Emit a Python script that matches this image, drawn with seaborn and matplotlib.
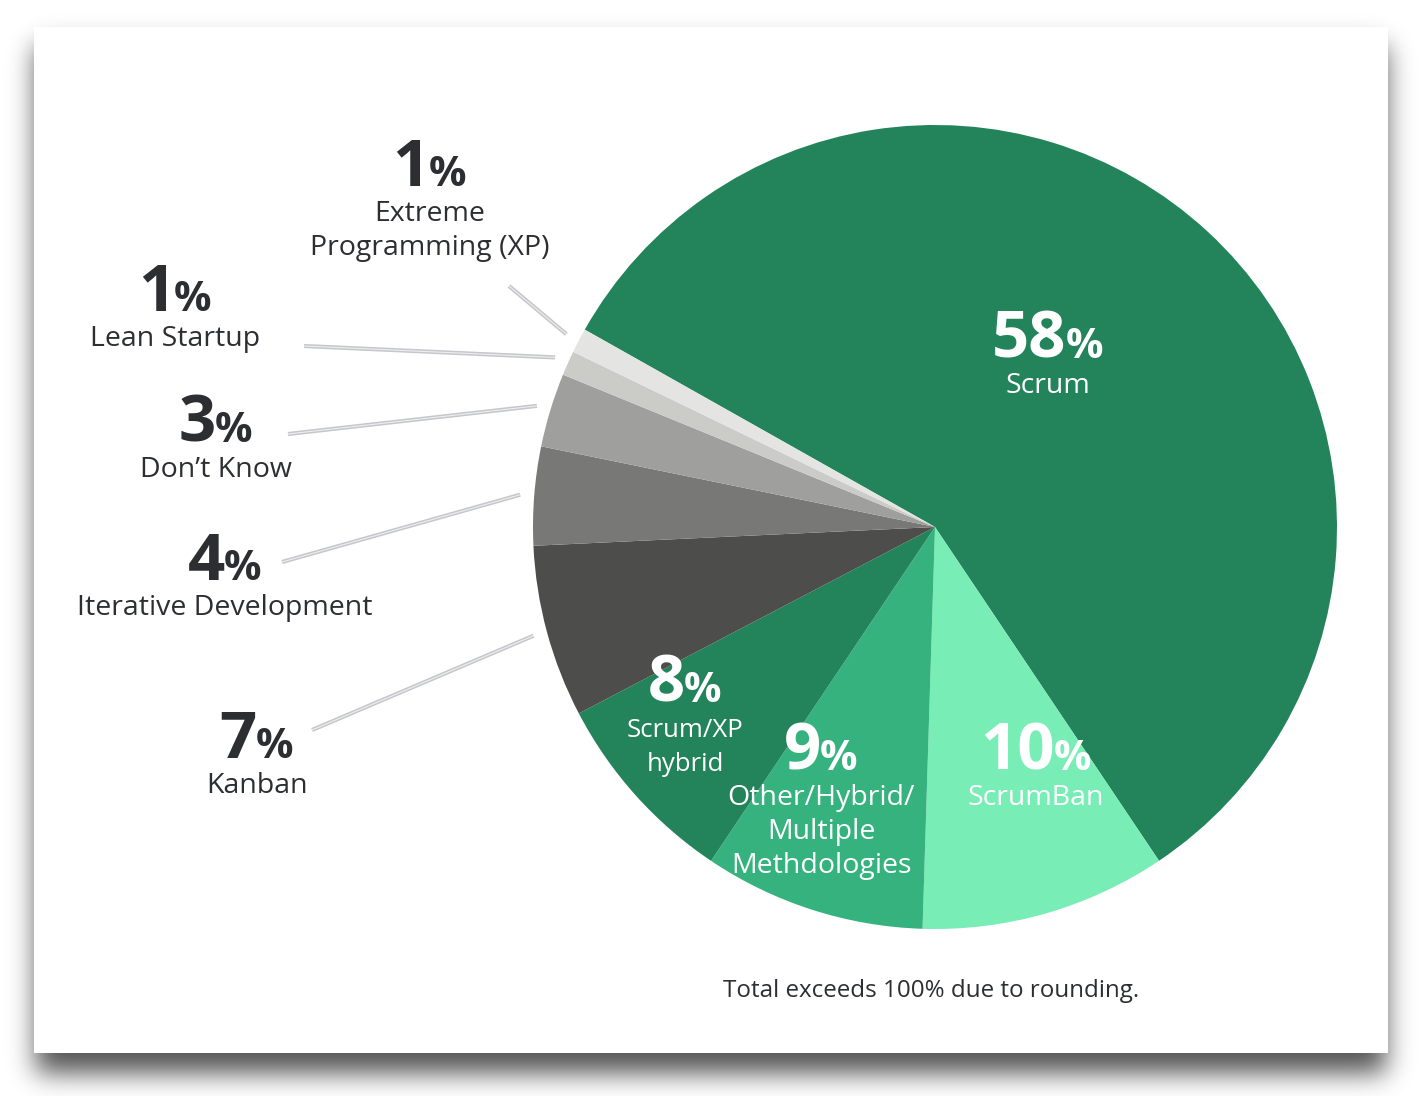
import numpy as np
import matplotlib
matplotlib.use("Agg")
import matplotlib.pyplot as plt
from matplotlib.patches import Rectangle
import seaborn as sns
from math import erf

# Data (total is 101% due to rounding)
methods = ["Scrum", "ScrumBan", "Other/Hybrid/\nMultiple\nMethdologies", "Scrum/XP\nhybrid",
           "Kanban", "Iterative Development", "Don’t Know", "Lean Startup",
           "Extreme\nProgramming (XP)"]
shares = [58, 10, 9, 8, 7, 4, 3, 1, 1]
colors = ["#23845b", "#78edb6", "#36b27f", "#23845b",
          "#4d4d4b", "#787876", "#9f9f9e", "#cbcbc7", "#e4e4e2"]
note = "Total exceeds 100% due to rounding."

W, H = 1422, 1096
sns.set_theme(style="white")
plt.rcParams['font.family'] = ['Open Sans', 'DejaVu Sans']

fig = plt.figure(figsize=(W / 100, H / 100), dpi=100)
fig.patch.set_facecolor("white")

# drop shadow of the card
verf = np.vectorize(erf)
def band(v, a, b, s):
    return 0.5 * (verf((v - a) / (s * np.sqrt(2))) - verf((v - b) / (s * np.sqrt(2))))
sx = band(np.arange(W) + 0.5, 36, 1386, 13)
sy = band(np.arange(H) + 0.5, 46, 1073, 13)
shadow = np.zeros((H, W, 4))
shadow[..., 3] = 0.68 * np.outer(sy, sx)
fig.figimage(shadow, 0, 0, origin="upper", zorder=-10)

ax = fig.add_axes([0, 0, 1, 1])
ax.patch.set_alpha(0)
ax.add_patch(Rectangle((34, H - 1053), 1354, 1026, facecolor="white", edgecolor="none", zorder=0))

cx, cy, R = 935, H - 527, 402
wedges, _ = ax.pie(shares, colors=colors, startangle=150.6, counterclock=False,
                   center=(cx, cy), radius=R, wedgeprops=dict(linewidth=0))
ax.set_xlim(0, W)
ax.set_ylim(0, H)
ax.set_aspect("equal")
ax.axis("off")

renderer = fig.canvas.get_renderer()
DARK = "#2c2e31"


def pct_label(x, base, value, name, color, num_size=47, pct_size=30, name_size=20.5, gap=34):
    y = H - base
    t1 = ax.text(0, y, str(value), fontsize=num_size, fontweight="bold", color=color,
                 ha="left", va="baseline")
    t2 = ax.text(0, y, "%", fontsize=pct_size, fontweight="bold", color=color,
                 ha="left", va="baseline")
    w1 = t1.get_window_extent(renderer).width
    w2 = t2.get_window_extent(renderer).width
    x0 = x - (w1 + w2) / 2
    t1.set_x(x0)
    t2.set_x(x0 + w1 - 1)
    for i, line in enumerate(name.split("\n")):
        ax.text(x, y - 35 - i * gap, line, fontsize=name_size, color=color,
                ha="center", va="baseline")


# label layout: (x center, number baseline) in image pixels, per slice index
layout = {
    0: (1048, 358, "white"),
    1: (1036, 770, "white"),
    2: (821, 770, "white"),
    3: (685, 702, "white"),
    4: (257, 758, DARK),
    5: (225, 580, DARK),
    6: (216, 442, DARK),
    7: (175, 311, DARK),
    8: (430, 186, DARK),
}
for i, (x, base, col) in layout.items():
    size = 20.5
    if i == 3:
        size = 18.5
    pct_label(x, base, shares[i], methods[i], col, name_size=size)

# leader lines from outside labels to their slices
line_starts = {4: (312, 730), 5: (282, 562), 6: (288, 434), 7: (304, 346), 8: (509, 286)}
for i, (sx0, sy0) in line_starts.items():
    w = wedges[i]
    mid = np.deg2rad((w.theta1 + w.theta2) / 2)
    ex = cx + 1.035 * R * np.cos(mid)
    ey = cy + 1.035 * R * np.sin(mid)
    ax.plot([sx0, ex], [H - sy0, ey], color="#c6c7cc", lw=3, solid_capstyle="butt", zorder=3)
    ax.plot([sx0, ex], [H - sy0, ey], color="#eeeeef", lw=0.8, solid_capstyle="butt", zorder=4)

ax.text(931, H - 997, note, fontsize=17.4, color=DARK, ha="center", va="baseline")

fig.savefig("out.png", dpi=100, facecolor="white")
